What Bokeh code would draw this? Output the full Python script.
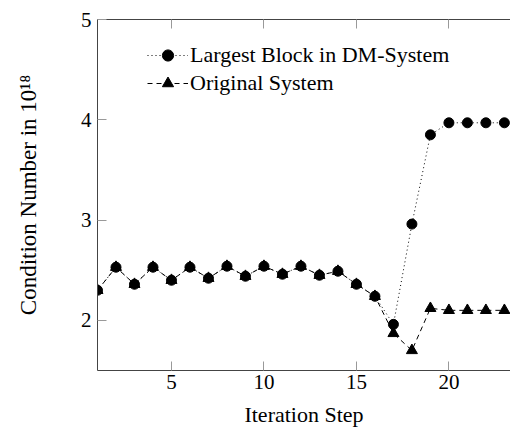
from bokeh.plotting import figure
from bokeh.models import LinearAxis, FixedTicker, Legend, LegendItem, Range1d
from bokeh.embed import file_html
from bokeh.resources import INLINE

steps = list(range(1, 24))
dm_block = [2.30, 2.53, 2.36, 2.53, 2.40, 2.53, 2.42, 2.54, 2.44, 2.54, 2.46, 2.54,
            2.45, 2.49, 2.36, 2.24, 1.96, 2.96, 3.85, 3.97, 3.97, 3.97, 3.97]
original = [2.30, 2.53, 2.36, 2.53, 2.40, 2.53, 2.42, 2.54, 2.44, 2.54, 2.46, 2.54,
            2.45, 2.49, 2.36, 2.24, 1.87, 1.70, 2.12, 2.10, 2.10, 2.10, 2.10]
x_ticks = [5, 10, 15, 20]
y_ticks = [2, 3, 4, 5]

FONT = "Liberation Serif"
FS = "21px"
FS_BIG = "22px"

p = figure(width=510, height=429, output_backend="svg", toolbar_location=None,
           x_range=Range1d(1, 23.33), y_range=Range1d(1.5, 5),
           min_border_left=97, min_border_right=0, min_border_top=19, min_border_bottom=58,
           x_axis_label="Iteration Step", y_axis_label="Condition Number in 10¹⁸")
p.outline_line_color = None
p.grid.visible = False
p.background_fill_color = "white"
p.border_fill_color = "white"

for ax in (p.xaxis[0], p.yaxis[0]):
    ax.axis_line_color = "#444444"
    ax.axis_line_width = 1
    ax.major_tick_line_color = "#999999"
    ax.major_tick_in = 9
    ax.major_tick_out = 0
    ax.minor_tick_line_color = None
    ax.major_label_text_font = FONT
    ax.major_label_text_font_size = FS
    ax.major_label_text_color = "black"
    ax.axis_label_text_font = FONT
    ax.axis_label_text_font_size = FS_BIG
    ax.axis_label_text_font_style = "normal"
    ax.axis_label_text_color = "black"

p.yaxis[0].axis_label_text_font_size = "23px"
p.xaxis[0].ticker = FixedTicker(ticks=x_ticks)
p.yaxis[0].ticker = FixedTicker(ticks=y_ticks)
p.xaxis[0].major_label_standoff = 4
p.xaxis[0].axis_label_standoff = 10
p.yaxis[0].major_label_standoff = 6
p.yaxis[0].axis_label_standoff = 37

top = LinearAxis(ticker=FixedTicker(ticks=x_ticks))
top.axis_line_color = "#444444"
top.major_tick_line_color = "#999999"
top.major_tick_in = 9
top.major_tick_out = 0
top.minor_tick_line_color = None
top.major_label_overrides = {t: "" for t in x_ticks}
top.major_label_standoff = 0
p.add_layout(top, "above")

l2 = p.line(steps, original, line_color="black", line_width=1, line_dash="5 4")
s2 = p.scatter(steps, original, marker="triangle", size=11, fill_color="black", line_color="black")
l1 = p.line(steps, dm_block, line_color="black", line_width=1, line_dash="1 3")
s1 = p.scatter(steps, dm_block, marker="circle", size=10, fill_color="black", line_color="black")

legend = Legend(items=[
    LegendItem(label="Largest Block in DM-System", renderers=[l1, s1]),
    LegendItem(label="Original System", renderers=[l2, s2]),
], location=(50, 273))
legend.border_line_color = None
legend.background_fill_alpha = 0
legend.padding = 0
legend.margin = 0
legend.spacing = 0
legend.glyph_width = 41
legend.glyph_height = 28
legend.label_height = 28
legend.label_standoff = 2
legend.label_text_font = FONT
legend.label_text_font_size = FS_BIG
legend.label_text_color = "black"
p.add_layout(legend, "center")

open("out.html", "w").write(file_html(p, INLINE))
